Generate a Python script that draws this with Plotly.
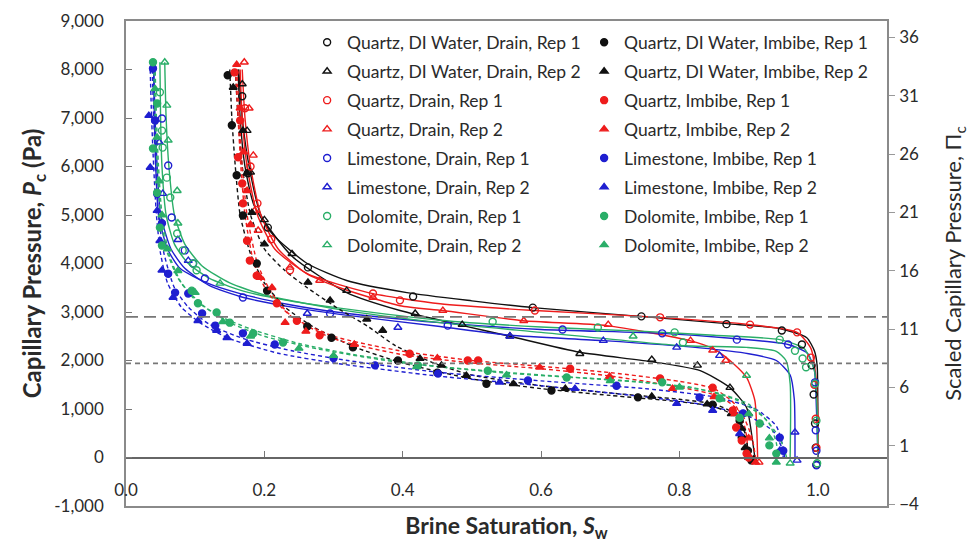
import plotly.graph_objects as go

# ---------------- data (Brine saturation Sw, capillary pressure Pc in Pa) ----------------
# Drainage (open markers, solid fitted lines)
QDI_DRAIN_1_PTS = [(0.168, 7450), (0.176, 5860), (0.205, 4740), (0.263, 3920), (0.415, 3320), (0.588, 3090),
                   (0.745, 2910), (0.868, 2750), (0.948, 2620), (0.977, 2330), (0.991, 1900), (0.994, 1300),
                   (0.996, 700), (0.997, 200), (0.998, -150)]
QDI_DRAIN_1_FIT = [(0.162, 8000), (0.165, 7000), (0.172, 6000), (0.185, 5200), (0.212, 4600), (0.262, 4000),
                   (0.319, 3650), (0.406, 3400), (0.5, 3230), (0.588, 3090), (0.743, 2910), (0.868, 2760),
                   (0.945, 2660), (0.984, 2470), (0.995, 2200), (0.999, 1900), (1.0, 1000), (1.0, 0)]
QDI_DRAIN_2_PTS = [(0.168, 7700), (0.175, 6740), (0.18, 5880), (0.2, 4900), (0.24, 4200), (0.319, 3440),
                   (0.418, 2970), (0.486, 2740), (0.555, 2500), (0.656, 2140), (0.76, 2020), (0.826, 1900),
                   (0.873, 1440), (0.9, 900), (0.907, -40)]
QDI_DRAIN_2_FIT = [(0.163, 8000), (0.168, 7000), (0.178, 6000), (0.195, 5000), (0.24, 4150), (0.319, 3400),
                   (0.396, 3030), (0.487, 2720), (0.555, 2500), (0.656, 2170), (0.757, 1980), (0.83, 1790),
                   (0.873, 1440), (0.897, 1030), (0.905, 410), (0.909, 0)]
Q_DRAIN_1_PTS = [(0.172, 7200), (0.18, 6000), (0.19, 5240), (0.21, 4500), (0.237, 3860), (0.357, 3380),
                 (0.396, 3240), (0.591, 3030), (0.772, 2890), (0.902, 2740), (0.97, 2580), (0.99, 2060),
                 (0.995, 1500), (0.997, 800), (0.998, 200)]
Q_DRAIN_1_FIT = [(0.165, 8000), (0.168, 7000), (0.175, 6000), (0.19, 5000), (0.215, 4300), (0.262, 3790),
                 (0.35, 3400), (0.454, 3170), (0.591, 3030), (0.772, 2890), (0.902, 2740), (0.97, 2580),
                 (0.99, 2250), (0.997, 1700), (1.0, 800), (1.0, 0)]
Q_DRAIN_2_PTS = [(0.171, 8150), (0.178, 7200), (0.184, 6230), (0.186, 5090), (0.191, 4680), (0.237, 3920),
                 (0.28, 3650), (0.357, 3300), (0.458, 3030), (0.575, 2820), (0.697, 2740), (0.816, 2410),
                 (0.848, 2210), (0.867, 2000), (0.915, -100)]
Q_DRAIN_2_FIT = [(0.168, 8000), (0.172, 7000), (0.18, 6000), (0.195, 5000), (0.22, 4300), (0.26, 3800),
                 (0.309, 3500), (0.396, 3130), (0.458, 3030), (0.574, 2820), (0.695, 2720), (0.815, 2410),
                 (0.848, 2250), (0.873, 2000), (0.897, 1650), (0.909, 1175), (0.912, 490), (0.913, 0)]
L_DRAIN_1_PTS = [(0.052, 6990), (0.061, 6020), (0.066, 4950), (0.085, 4270), (0.097, 4000), (0.114, 3690),
                 (0.169, 3300), (0.295, 2970), (0.465, 2720), (0.631, 2640), (0.775, 2560), (0.883, 2430),
                 (0.957, 2330), (0.996, 1550), (0.997, 560), (0.998, 140), (0.998, -160)]
L_DRAIN_1_FIT = [(0.04, 8000), (0.041, 7000), (0.043, 6000), (0.047, 5000), (0.06, 4300), (0.078, 3900),
                 (0.117, 3600), (0.165, 3380), (0.237, 3150), (0.309, 2990), (0.454, 2780), (0.6, 2640),
                 (0.775, 2560), (0.883, 2450), (0.957, 2330), (0.985, 2150), (0.995, 1800), (0.998, 1000),
                 (1.0, 0)]
L_DRAIN_2_PTS = [(0.048, 6500), (0.053, 5440), (0.075, 4490), (0.09, 4060), (0.262, 2970), (0.393, 2680),
                 (0.555, 2500), (0.69, 2410), (0.796, 2270), (0.858, 2100), (0.967, 520), (0.97, -60)]
L_DRAIN_2_FIT = [(0.04, 8000), (0.042, 7000), (0.045, 6000), (0.05, 5000), (0.065, 4300), (0.085, 3900),
                 (0.12, 3550), (0.17, 3300), (0.24, 3100), (0.309, 2950), (0.454, 2700), (0.555, 2520),
                 (0.69, 2410), (0.83, 2260), (0.9, 2140), (0.94, 2000), (0.96, 1700), (0.966, 1200),
                 (0.967, 500), (0.967, 0)]
D_DRAIN_1_PTS = [(0.049, 7530), (0.052, 6740), (0.053, 6390), (0.059, 5770), (0.064, 5360), (0.074, 4620),
                 (0.082, 4270), (0.097, 4000), (0.102, 3860), (0.53, 2800), (0.682, 2680), (0.793, 2580),
                 (0.805, 2370), (0.945, 2430), (0.967, 2200), (0.978, 2040), (0.983, 1860), (0.996, 1520),
                 (0.998, 760), (0.999, -120)]
D_DRAIN_1_FIT = [(0.049, 8150), (0.05, 7000), (0.052, 6000), (0.058, 5000), (0.07, 4400), (0.09, 4000),
                 (0.12, 3700), (0.165, 3450), (0.237, 3230), (0.309, 3080), (0.454, 2830), (0.6, 2690),
                 (0.75, 2600), (0.85, 2520), (0.945, 2430), (0.98, 2250), (0.995, 1800), (0.999, 1000),
                 (1.0, 0)]
D_DRAIN_2_PTS = [(0.056, 8150), (0.059, 7260), (0.061, 6540), (0.074, 5500), (0.075, 4830), (0.136, 3590),
                 (0.733, 2500), (0.897, 1690), (0.96, -120)]
D_DRAIN_2_FIT = [(0.056, 8150), (0.058, 7000), (0.062, 6000), (0.07, 5000), (0.085, 4400), (0.11, 3950),
                 (0.15, 3600), (0.2, 3350), (0.309, 3050), (0.454, 2780), (0.6, 2580), (0.8, 2310),
                 (0.897, 2270), (0.94, 2190), (0.954, 2000), (0.96, 1520), (0.96, 0)]

# Imbibition (filled markers, dashed fitted lines)
QDI_IMB_1_PTS = [(0.147, 7880), (0.153, 6850), (0.16, 5820), (0.169, 4990), (0.189, 4000), (0.204, 3440),
                 (0.262, 2700), (0.297, 2470), (0.328, 2270), (0.393, 2000), (0.45, 1750), (0.521, 1520),
                 (0.615, 1380), (0.74, 1240), (0.848, 1090), (0.887, 760), (0.89, 410), (0.899, 140),
                 (0.904, -60)]
QDI_IMB_1_FIT = [(0.15, 8000), (0.153, 7000), (0.158, 6000), (0.165, 5000), (0.18, 4200), (0.2, 3600),
                 (0.23, 3100), (0.27, 2700), (0.33, 2280), (0.4, 1950), (0.5, 1620), (0.6, 1420), (0.7, 1280),
                 (0.8, 1150), (0.85, 1050), (0.88, 850), (0.895, 500), (0.9, 0)]
QDI_IMB_2_PTS = [(0.155, 7630), (0.169, 6740), (0.175, 5860), (0.182, 5050), (0.2, 4400), (0.263, 3610),
                 (0.295, 3240), (0.348, 2850), (0.371, 2620), (0.425, 2040), (0.456, 1900), (0.492, 1690),
                 (0.56, 1520), (0.635, 1420), (0.76, 1260), (0.84, 1100), (0.875, 900), (0.89, 600),
                 (0.895, 200), (0.9, 0)]
QDI_IMB_2_FIT = [(0.158, 8000), (0.162, 7000), (0.168, 6000), (0.18, 5000), (0.2, 4300), (0.23, 3850),
                 (0.262, 3500), (0.309, 3050), (0.35, 2700), (0.39, 2300), (0.45, 1920), (0.5, 1700),
                 (0.6, 1480), (0.7, 1330), (0.8, 1200), (0.85, 1100), (0.88, 900), (0.895, 500), (0.9, 0)]
Q_IMB_1_PTS = [(0.157, 7940), (0.165, 6950), (0.162, 6190), (0.168, 5650), (0.169, 5240), (0.175, 4470),
               (0.179, 4060), (0.189, 3750), (0.218, 3180), (0.247, 2820), (0.28, 2520), (0.41, 2140),
               (0.494, 2000), (0.509, 2000), (0.642, 1830), (0.772, 1630), (0.848, 1440), (0.877, 970),
               (0.882, 620), (0.89, 350), (0.897, 80), (0.9, 0)]
Q_IMB_1_FIT = [(0.158, 8000), (0.162, 7000), (0.166, 6000), (0.172, 5000), (0.185, 4000), (0.205, 3400),
               (0.24, 2900), (0.3, 2500), (0.396, 2200), (0.5, 2000), (0.6, 1880), (0.7, 1750), (0.8, 1570),
               (0.85, 1420), (0.88, 1100), (0.895, 600), (0.9, 0)]
Q_IMB_2_PTS = [(0.16, 8100), (0.165, 7200), (0.17, 6300), (0.175, 5500), (0.18, 4800), (0.194, 3710),
               (0.211, 3500), (0.23, 2780), (0.26, 2600), (0.33, 2330), (0.45, 2050), (0.598, 1860),
               (0.699, 1670), (0.79, 1420), (0.85, 1250), (0.88, 900), (0.9, 400), (0.91, -100)]
Q_IMB_2_FIT = [(0.16, 8000), (0.164, 7000), (0.168, 6000), (0.175, 5000), (0.19, 4000), (0.21, 3400),
               (0.24, 2900), (0.3, 2450), (0.396, 2130), (0.5, 1950), (0.6, 1830), (0.7, 1680), (0.8, 1450),
               (0.86, 1250), (0.89, 900), (0.905, 400), (0.91, 0)]
L_IMB_1_PTS = [(0.039, 8020), (0.042, 6950), (0.045, 5440), (0.052, 4830), (0.061, 3790), (0.071, 3400),
               (0.09, 3380), (0.11, 2970), (0.129, 2720), (0.169, 2560), (0.215, 2330), (0.3, 2050),
               (0.36, 1900), (0.451, 1730), (0.581, 1590), (0.709, 1480), (0.829, 1240), (0.892, 910),
               (0.945, 410), (0.95, 140)]
L_IMB_1_FIT = [(0.038, 8000), (0.04, 7000), (0.043, 6000), (0.047, 5000), (0.055, 4200), (0.07, 3500),
               (0.09, 3100), (0.12, 2750), (0.17, 2450), (0.24, 2200), (0.32, 2000), (0.45, 1760),
               (0.6, 1580), (0.75, 1420), (0.85, 1250), (0.91, 1000), (0.94, 650), (0.95, 200), (0.952, 0)]
L_IMB_2_PTS = [(0.033, 7050), (0.035, 5980), (0.045, 5090), (0.049, 4470), (0.052, 3860), (0.068, 3300),
               (0.104, 2820), (0.131, 2620), (0.146, 2470), (0.175, 2350), (0.54, 1550), (0.649, 1420),
               (0.796, 1110), (0.848, 970), (0.887, 490), (0.945, 140)]
L_IMB_2_FIT = [(0.035, 8000), (0.037, 7000), (0.04, 6000), (0.044, 5000), (0.05, 4200), (0.06, 3600),
               (0.08, 3100), (0.11, 2750), (0.15, 2450), (0.22, 2150), (0.3, 1950), (0.45, 1680), (0.6, 1480),
               (0.75, 1250), (0.83, 1100), (0.9, 850), (0.935, 550), (0.948, 200), (0.95, 0)]
D_IMB_1_PTS = [(0.039, 8150), (0.045, 7300), (0.039, 6370), (0.045, 5460), (0.049, 4740), (0.052, 4370),
               (0.095, 3440), (0.104, 3180), (0.131, 2990), (0.15, 2780), (0.184, 2560), (0.227, 2370),
               (0.422, 1900), (0.523, 1790), (0.637, 1650), (0.775, 1550), (0.858, 1220), (0.887, 820),
               (0.916, 700), (0.93, 250), (0.94, 80)]
D_IMB_1_FIT = [(0.04, 8100), (0.042, 7000), (0.045, 6000), (0.05, 5000), (0.058, 4300), (0.075, 3700),
               (0.1, 3250), (0.13, 2950), (0.18, 2650), (0.25, 2350), (0.33, 2120), (0.45, 1880), (0.6, 1700),
               (0.75, 1550), (0.85, 1350), (0.9, 1100), (0.93, 700), (0.94, 300), (0.943, 0)]
D_IMB_2_PTS = [(0.042, 7600), (0.045, 6600), (0.048, 5700), (0.052, 5000), (0.06, 4300), (0.075, 3850),
               (0.1, 3400), (0.14, 2800), (0.18, 2500), (0.25, 2250), (0.3, 2100), (0.42, 1870), (0.55, 1700),
               (0.7, 1580), (0.8, 1450), (0.86, 1200), (0.9, 900), (0.93, 400), (0.94, -100)]
D_IMB_2_FIT = [(0.042, 8100), (0.044, 7000), (0.047, 6000), (0.052, 5000), (0.062, 4200), (0.08, 3600),
               (0.11, 3150), (0.15, 2780), (0.2, 2500), (0.28, 2230), (0.4, 1950), (0.55, 1740), (0.7, 1600),
               (0.82, 1440), (0.88, 1200), (0.92, 850), (0.945, 400), (0.955, 0)]

# Reference levels (Pa) drawn as horizontal dashed lines
REF_LEVEL_UPPER = 2900
REF_LEVEL_LOWER = 1940

X_TICKS = [0.0, 0.2, 0.4, 0.6, 0.8, 1.0]
Y_TICKS = [-1000, 0, 1000, 2000, 3000, 4000, 5000, 6000, 7000, 8000, 9000]
Y2_TICKS = [-4, 1, 6, 11, 16, 21, 26, 31, 36]

# ---------------- styling ----------------
BLACK = "#111111"
RED = "#ee1c1c"
BLUE = "#1f1fd0"
GREEN = "#2aae68"

DRAIN = [
    ("Quartz, DI Water, Drain, Rep 1", QDI_DRAIN_1_PTS, QDI_DRAIN_1_FIT, BLACK, "circle-open"),
    ("Quartz, DI Water, Drain, Rep 2", QDI_DRAIN_2_PTS, QDI_DRAIN_2_FIT, BLACK, "triangle-up-open"),
    ("Quartz, Drain, Rep 1", Q_DRAIN_1_PTS, Q_DRAIN_1_FIT, RED, "circle-open"),
    ("Quartz, Drain, Rep 2", Q_DRAIN_2_PTS, Q_DRAIN_2_FIT, RED, "triangle-up-open"),
    ("Limestone, Drain, Rep 1", L_DRAIN_1_PTS, L_DRAIN_1_FIT, BLUE, "circle-open"),
    ("Limestone, Drain, Rep 2", L_DRAIN_2_PTS, L_DRAIN_2_FIT, BLUE, "triangle-up-open"),
    ("Dolomite, Drain, Rep 1", D_DRAIN_1_PTS, D_DRAIN_1_FIT, GREEN, "circle-open"),
    ("Dolomite, Drain, Rep 2", D_DRAIN_2_PTS, D_DRAIN_2_FIT, GREEN, "triangle-up-open"),
]
IMBIBE = [
    ("Quartz, DI Water, Imbibe, Rep 1", QDI_IMB_1_PTS, QDI_IMB_1_FIT, BLACK, "circle"),
    ("Quartz, DI Water, Imbibe, Rep 2", QDI_IMB_2_PTS, QDI_IMB_2_FIT, BLACK, "triangle-up"),
    ("Quartz, Imbibe, Rep 1", Q_IMB_1_PTS, Q_IMB_1_FIT, RED, "circle"),
    ("Quartz, Imbibe, Rep 2", Q_IMB_2_PTS, Q_IMB_2_FIT, RED, "triangle-up"),
    ("Limestone, Imbibe, Rep 1", L_IMB_1_PTS, L_IMB_1_FIT, BLUE, "circle"),
    ("Limestone, Imbibe, Rep 2", L_IMB_2_PTS, L_IMB_2_FIT, BLUE, "triangle-up"),
    ("Dolomite, Imbibe, Rep 1", D_IMB_1_PTS, D_IMB_1_FIT, GREEN, "circle"),
    ("Dolomite, Imbibe, Rep 2", D_IMB_2_PTS, D_IMB_2_FIT, GREEN, "triangle-up"),
]

FONT = "Lato, 'Open Sans', sans-serif"
TEXT = "#2a2a2a"
AXIS = "#8a8a8a"

fig = go.Figure()

# fitted lines
for group, dash in ((DRAIN, "solid"), (IMBIBE, "4px,3px")):
    for name, pts, fit, col, sym in group:
        fig.add_trace(go.Scatter(
            x=[p[0] for p in fit], y=[p[1] for p in fit], mode="lines",
            line=dict(color=col, width=1.4, dash=dash, shape="spline", smoothing=0.6),
            showlegend=False, hoverinfo="skip"))

# measured points
for group, leg in ((DRAIN, "legend"), (IMBIBE, "legend2")):
    for i, (name, pts, fit, col, sym) in enumerate(group):
        fig.add_trace(go.Scatter(
            x=[p[0] for p in pts], y=[p[1] for p in pts], mode="markers", name=name,
            marker=dict(symbol=sym, size=7, color=col, line=dict(color=col, width=1.4)),
            legend=leg, legendgroup=f"{leg}{i}"))

# helper traces keeping the secondary axes active
fig.add_trace(go.Scatter(x=[None], y=[None], yaxis="y2", showlegend=False, hoverinfo="skip"))
fig.add_trace(go.Scatter(x=[None], y=[None], xaxis="x2", showlegend=False, hoverinfo="skip"))

for lvl, dash in ((REF_LEVEL_UPPER, "12px,6px"), (REF_LEVEL_LOWER, "5px,4px")):
    fig.add_hline(y=lvl, line=dict(color="#777777", width=1.6, dash=dash))

legend_common = dict(
    orientation="v", bgcolor="rgba(0,0,0,0)", borderwidth=0,
    font=dict(family=FONT, size=17.5, color=TEXT), tracegroupgap=3.2,
    xanchor="left", yanchor="top", itemsizing="trace")

fig.update_layout(
    width=969, height=542,
    margin=dict(l=126, r=82, t=21, b=36, autoexpand=False),
    paper_bgcolor="white", plot_bgcolor="white",
    font=dict(family=FONT, color=TEXT),
    legend=dict(x=0.238, y=0.993, **legend_common),
    legend2=dict(x=0.602, y=0.993, **legend_common),
    xaxis=dict(range=[0, 1.1], showgrid=False, zeroline=False, showline=True, mirror=True,
               linecolor=AXIS, linewidth=1.5, ticks="", showticklabels=False, automargin=False,
               title=dict(text="<b>Brine Saturation, <i>S</i><sub>w</sub></b>",
                          font=dict(family=FONT, size=23, color=TEXT), standoff=12)),
    xaxis2=dict(range=[0, 1.1], overlaying="x", anchor="free", position=0.1, side="bottom",
                showgrid=False, zeroline=False, showline=True, linecolor="#666666", linewidth=1.5,
                ticks="inside", ticklen=6, tickcolor="#777777", tickvals=X_TICKS, automargin=False,
                ticktext=[f"{v:.1f}" for v in X_TICKS], ticklabelstandoff=17,
                tickfont=dict(family=FONT, size=17, color=TEXT)),
    yaxis=dict(range=[-1000, 9000], showgrid=False, zeroline=False, showline=True, automargin=False,
               linecolor=AXIS, linewidth=1.5, ticks="inside", ticklen=6, tickcolor="#777777",
               tickvals=Y_TICKS, ticktext=[f"{v:,}" for v in Y_TICKS], ticklabelstandoff=17,
               tickfont=dict(family=FONT, size=17, color=TEXT),
               title=dict(text="<b>Capillary Pressure, <i>P</i><sub>c</sub> (Pa)</b>",
                          font=dict(family=FONT, size=24, color=TEXT), standoff=6)),
    yaxis2=dict(range=[-4.16, 37.4], overlaying="y", side="right", showgrid=False, zeroline=False,
                showline=True, linecolor=AXIS, linewidth=1.5, ticks="outside", ticklen=6, automargin=False,
                tickcolor="#999999", tickvals=Y2_TICKS, ticklabelstandoff=1,
                tickfont=dict(family=FONT, size=17, color=TEXT),
                title=dict(text="Scaled Capillary Pressure, Π<sub>c</sub>",
                           font=dict(family=FONT, size=22, color=TEXT), standoff=30)),
)

# remove the default page margin so the figure sits at the window origin
fig.write_html("out.html", config={"displayModeBar": False},
               post_script="document.body.style.margin='0';")
